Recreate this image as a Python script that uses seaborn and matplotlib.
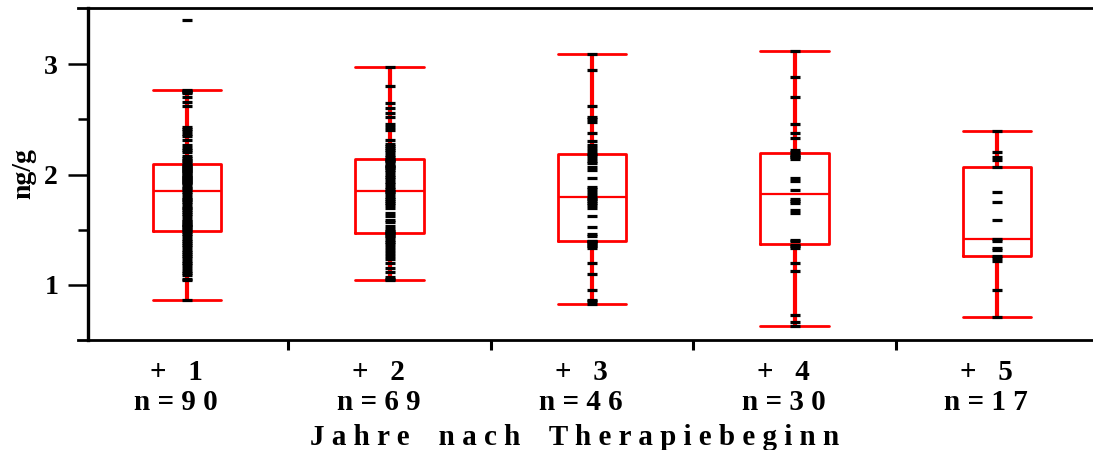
import numpy as np
import pandas as pd
import matplotlib
matplotlib.use("Agg")
import matplotlib.pyplot as plt
from matplotlib.transforms import ScaledTranslation
import seaborn as sns

# ---- data ----
groups = ["+   1", "+   2", "+   3", "+   4", "+   5"]
counts_text = ["n = 9 0", "n = 6 9", "n = 4 6", "n = 3 0", "n = 1 7"]

year1 = [0.86, 1.04, 1.05, 1.09, 1.11, 1.13, 1.15, 1.18, 1.20, 1.22, 1.24, 1.26,
         1.28, 1.30, 1.32, 1.34, 1.36, 1.38, 1.40, 1.42, 1.44, 1.46, 1.48,
         1.50, 1.51, 1.52, 1.53, 1.54, 1.55, 1.57, 1.58, 1.60, 1.62, 1.64, 1.66,
         1.68, 1.70, 1.71, 1.73, 1.75, 1.77, 1.78, 1.80, 1.82, 1.84,
         1.86, 1.88, 1.89, 1.91, 1.92, 1.93, 1.94, 1.95, 1.96, 1.97, 1.98, 1.99,
         2.00, 2.01, 2.02, 2.03, 2.04, 2.05, 2.06, 2.07, 2.08, 2.09,
         2.10, 2.12, 2.13, 2.15, 2.17, 2.20, 2.22, 2.24, 2.27, 2.31, 2.35, 2.37,
         2.39, 2.41, 2.43, 2.62, 2.66, 2.70, 2.74, 2.75, 2.76, 2.77, 3.40]
year2 = [1.04, 1.05, 1.07, 1.12, 1.15, 1.20, 1.23, 1.26, 1.29, 1.32, 1.34, 1.37,
         1.39, 1.41, 1.43, 1.44, 1.46, 1.47,
         1.48, 1.49, 1.51, 1.53, 1.57, 1.59, 1.62, 1.65, 1.70, 1.72, 1.74, 1.76,
         1.78, 1.80, 1.82, 1.84, 1.85,
         1.87, 1.89, 1.91, 1.93, 1.96, 1.98, 2.00, 2.02, 2.04, 2.06, 2.07, 2.08,
         2.09, 2.11, 2.12, 2.13, 2.14,
         2.16, 2.18, 2.20, 2.22, 2.24, 2.26, 2.28, 2.31, 2.40, 2.43, 2.46, 2.52,
         2.56, 2.60, 2.65, 2.80, 2.97]
year3 = [0.83, 0.85, 0.86, 0.95, 1.10, 1.20, 1.33, 1.35, 1.36, 1.38, 1.39,
         1.40, 1.40,
         1.44, 1.46, 1.52, 1.62, 1.70, 1.72, 1.74, 1.76, 1.78,
         1.79, 1.81,
         1.84, 1.87, 1.89, 1.97, 2.04, 2.07, 2.10, 2.12, 2.15,
         2.18, 2.19,
         2.21, 2.24, 2.27, 2.30, 2.38, 2.48, 2.50, 2.52, 2.62, 2.95, 3.09]
year4 = [0.63, 0.66, 0.73, 1.13, 1.20, 1.33, 1.35, 1.36, 1.40,
         1.41, 1.65, 1.68, 1.74, 1.76, 1.78, 1.86,
         1.94, 1.97, 2.14, 2.16, 2.17, 2.18, 2.20,
         2.22, 2.33, 2.38, 2.46, 2.70, 2.88, 3.12]
year5 = [0.71, 0.95, 1.22, 1.24, 1.26, 1.32, 1.33, 1.40, 1.42, 1.59, 1.75,
         1.84, 2.07, 2.13, 2.16, 2.20, 2.39]

y_ticks = [1, 2, 3]
y_minor = [1.5, 2.5]
x_label = "J a h r e    n a c h    T h e r a p i e b e g i n n"
y_label = "ng/g"

series = [year1, year2, year3, year4, year5]
df = pd.DataFrame({
    "group": np.concatenate([[g] * len(v) for g, v in zip(groups, series)]),
    "value": np.concatenate(series),
})

# ---- plot ----
sns.set_style("white")
plt.rcParams["font.family"] = ["Liberation Serif", "DejaVu Serif"]
plt.rcParams["font.weight"] = "bold"
for k in ["text.color", "axes.labelcolor", "xtick.color", "ytick.color",
          "axes.edgecolor"]:
    plt.rcParams[k] = "black"

fig = plt.figure(figsize=(10.93, 4.5), dpi=100)
ax = fig.add_axes([0.0805, 0.2444, 0.9195, 0.738])

red = "#ff0000"
sns.boxplot(data=df, x="group", y="value", order=groups, ax=ax,
            fill=False, color=red, width=0.34, whis=1.5, showfliers=False,
            linewidth=2, capwidths=0.34,
            boxprops=dict(color=red, linewidth=2),
            whiskerprops=dict(color=red, linewidth=3),
            capprops=dict(color=red, linewidth=2),
            medianprops=dict(color=red, linewidth=1.6))
sns.stripplot(data=df, x="group", y="value", order=groups, ax=ax,
              jitter=False, marker="_", color="black", size=7,
              linewidth=2.3, zorder=5)

ax.set_xlim(-0.489, 4.474)
ax.set_ylim(0.5, 3.51)

ax.set_yticks(y_ticks)
ax.set_yticklabels([str(t) for t in y_ticks], fontsize=20, fontweight="bold",
                   color="black")
ax.set_yticks(y_minor, minor=True)
ax.tick_params(axis="y", which="major", direction="out", length=14.5, width=1.8,
               pad=7, left=True, color="black")
ax.tick_params(axis="y", which="minor", direction="out", length=7.2, width=1.8,
               left=True, color="black")

ax.set_xticks(range(len(groups)))
ax.set_xticks([0.5, 1.5, 2.5, 3.5], minor=True)
ax.tick_params(axis="x", which="major", length=0, pad=14)
ax.tick_params(axis="x", which="minor", direction="out", length=7, width=2.2,
               bottom=True, color="black")
ax.set_xticklabels([f"{g}\n{c}" for g, c in zip(groups, counts_text)],
                   fontsize=21, fontweight="bold", linespacing=1.1,
                   color="black")
shift = ScaledTranslation(-0.11, 0, fig.dpi_scale_trans)
for tick in ax.xaxis.get_major_ticks():
    tick.label1.set_transform(tick.label1.get_transform() + shift)

ax.set_xlabel(x_label, fontsize=21, fontweight="bold", color="black")
ax.xaxis.set_label_coords(0.4846, -0.252)
ax.set_ylabel(y_label, fontsize=20, fontweight="bold", color="black")
ax.yaxis.set_label_coords(-0.051, 0.50)

for side in ["left", "top", "bottom"]:
    ax.spines[side].set_visible(True)
    ax.spines[side].set_color("black")
    ax.spines[side].set_linewidth(2.0)
ax.spines["right"].set_visible(False)
ax.spines["left"].set_linewidth(2.4)
ax.spines["top"].set_bounds(-0.538, 4.474)
ax.spines["bottom"].set_bounds(-0.538, 4.474)

fig.savefig("out.png", dpi=100, facecolor="white")
